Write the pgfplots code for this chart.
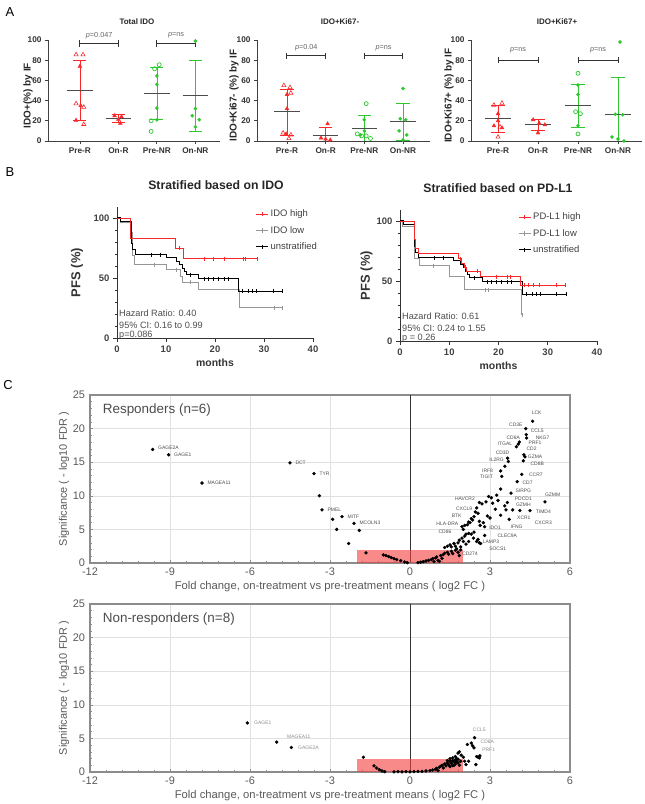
\documentclass[border=0pt]{standalone}
\usepackage{fontspec}
\setmainfont{Liberation Sans}
\usepackage{pgfplots}
\pgfplotsset{compat=1.18}
\definecolor{gpRed}{RGB}{250,40,40}
\definecolor{gpGreen}{RGB}{45,200,45}
\definecolor{kmGray}{RGB}{150,150,150}
\definecolor{boxRed}{RGB}{245,60,60}
\newcommand{\fs}[1]{\fontsize{#1}{#1}\selectfont}
\tikzset{
  gl/.style={font=\fs{5}, text=black!70, inner sep=0pt},
  gl2/.style={font=\fs{5}, text=black!45, inner sep=0pt},
}
\pgfplotsset{
  every axis/.append style={/pgf/number format/assume math mode=true, clip=false, scale only axis},
  panelA/.style={height=101bp, ymin=0, ymax=100, axis x line*=bottom, axis y line*=left,
    axis line style={-, black!75, line width=0.8bp},
    ytick={0,20,40,60,80,100}, xtick={0,1,2,3}, xticklabels={Pre-R,On-R,Pre-NR,On-NR},
    tick align=outside, major tick length=3bp, tick style={black!75, line width=0.8bp},
    tick label style={font=\fs{8.3}\bfseries, text=black!80},
    ylabel style={font=\fs{10}\bfseries, text=black!85, anchor=center}},
  rOpen/.style={only marks, mark=triangle, mark size=2.4bp, gpRed, mark options={line width=0.6bp}},
  rFill/.style={only marks, mark=triangle*, mark size=2.2bp, gpRed},
  gOpen/.style={only marks, mark=o, mark size=2bp, gpGreen, mark options={line width=0.7bp}},
  gFill/.style={only marks, mark=*, mark size=1.6bp, gpGreen},
  rBar/.style={gpRed, line width=0.7bp, mark=none},
  gBar/.style={gpGreen, line width=0.7bp, mark=none},
  meanL/.style={black!70, line width=0.8bp, mark=none},
  brk/.style={black!80, line width=1bp, mark=none},
  km/.style={width=196bp, height=130.8bp, xmin=0, xmax=40, ymin=0, ymax=109,
    axis x line*=bottom, axis y line*=left, axis line style={-, black!80, line width=0.9bp},
    xtick={0,10,20,30,40}, ytick={0,50,100}, minor ytick={10,20,30,40,60,70,80,90},
    tick style={black!80, line width=0.9bp}, major tick length=4bp, minor tick length=2.5bp, tick align=outside,
    tick label style={font=\fs{9.5}\bfseries, text=black!75},
    legend cell align=left,
    legend style={draw=none, fill=none, font=\fs{9.5}, text=black!75, row sep=4bp, inner sep=0pt},
    legend image code/.code={\draw[##1] (0bp,0bp) -- (12bp,0bp); \draw[##1] (6bp,-2.2bp) -- (6bp,2.2bp);},
    xlabel={months}, xlabel style={font=\fs{10.5}\bfseries, text=black!80},
    ylabel={PFS (\%)}, ylabel style={font=\fs{13}\bfseries, text=black!80, anchor=center}},
  volc/.style={width=480bp, height=168bp, xmin=-12, xmax=6, ymin=0, ymax=25,
    xtick={-12,-9,-6,-3,0,3,6}, ytick={0,5,10,15,20,25}, grid=major, grid style={black!12, line width=0.5bp},
    axis line style={black!45, line width=1.1bp}, tick pos=left, tick align=inside,
    minor x tick num=4, minor y tick num=4, major tick length=3bp, minor tick length=2bp,
    tick style={black!45, line width=0.5bp}, tick label style={font=\fs{11}, text=black!65},
    xticklabel style={yshift=-1.5bp}, yticklabel style={xshift=-1.5bp},
    xlabel={Fold change, on-treatment vs pre-treatment means ( log2 FC )},
    xlabel style={font=\fs{11.3}, text=black!65, yshift=1bp},
    ylabel={Significance ( - log10 FDR )},
    ylabel style={font=\fs{11}, text=black!65, at={(axis description cs:-0.054,0.5)}, anchor=center}},
  dots/.style={only marks, mark=*, mark size=1.5bp, black},
}
\begin{document}
\begin{tikzpicture}
\useasboundingbox (0,0) rectangle (645bp,804bp);
% panel letters
\node[font=\fs{13}, anchor=center] at (10bp,792bp) {A};
\node[font=\fs{13}, anchor=center] at (10bp,632bp) {B};
\node[font=\fs{13}, anchor=center] at (8bp,419bp) {C};
% titles A
\node[font=\fs{8}\bfseries, text=black!85] at (137bp,782bp) {Total IDO};
\node[font=\fs{8}\bfseries, text=black!85] at (340bp,782bp) {IDO+Ki67-};
\node[font=\fs{8}\bfseries, text=black!85] at (557bp,782bp) {IDO+Ki67+};

% ---------- A1
\begin{axis}[panelA, at={(48bp,663bp)}, anchor=south west, width=172bp, xmin=-0.83, xmax=3.64,
  ylabel={IDO+(\%) by IF}, ylabel style={at={(axis description cs:-0.116,0.45)}}]
\addplot[rOpen] coordinates {(-0.1,85.5)(0.08,85.5)(-0.1,37)(0.1,33.5)(0.1,16.5)};
\addplot[rFill] coordinates {(0,74)(0.02,35)(-0.1,20.5)};
\addplot[rBar] coordinates {(0,20.5)(0,80)};
\addplot[rBar] coordinates {(-0.17,80)(0.17,80)};
\addplot[rBar] coordinates {(-0.17,20.5)(0.17,20.5)};
\addplot[meanL] coordinates {(-0.33,50.3)(0.33,50.3)};
\addplot[rFill] coordinates {(0.9,25)(1.08,24)(1.0,21.5)(1.05,17.5)};
\addplot[rBar] coordinates {(1,18.5)(1,26)};
\addplot[rBar] coordinates {(0.83,26)(1.17,26)};
\addplot[rBar] coordinates {(0.83,18.5)(1.17,18.5)};
\addplot[meanL] coordinates {(0.67,22.3)(1.33,22.3)};
\addplot[gOpen] coordinates {(2.06,75.5)(1.94,71.5)(1.85,20)(1.85,9.5)};
\addplot[gFill] coordinates {(2,64.5)(2,56)(2,32.5)(2,21)};
\addplot[gBar] coordinates {(2,21)(2,73)};
\addplot[gBar] coordinates {(1.83,73)(2.17,73)};
\addplot[gBar] coordinates {(1.83,21)(2.17,21)};
\addplot[meanL] coordinates {(1.67,47.2)(2.33,47.2)};
\addplot[gFill] coordinates {(3,99)(3,32)(2.92,25)(3.1,21)(3,14)};
\addplot[gBar] coordinates {(3,10)(3,80)};
\addplot[gBar] coordinates {(2.83,80)(3.17,80)};
\addplot[gBar] coordinates {(2.83,10)(3.17,10)};
\addplot[meanL] coordinates {(2.67,45.2)(3.33,45.2)};
\addplot[brk] coordinates {(0,96.5)(1,96.5)};
\addplot[brk] coordinates {(0,93.5)(0,99.5)};
\addplot[brk] coordinates {(1,93.5)(1,99.5)};
\addplot[brk] coordinates {(2,96.5)(3,96.5)};
\addplot[brk] coordinates {(2,93.5)(2,99.5)};
\addplot[brk] coordinates {(3,93.5)(3,99.5)};
\node[font=\fs{7.3}, text=black!60] at (axis cs:0.5,104.5) {\textit{p}=0.047};
\node[font=\fs{7.3}, text=black!60] at (axis cs:2.5,104.5) {\textit{p}=ns};
\end{axis}

% ---------- A2
\begin{axis}[panelA, at={(257bp,663bp)}, anchor=south west, width=173bp, xmin=-0.775, xmax=3.7,
  ylabel={IDO+Ki67- (\%) by IF}, ylabel style={at={(axis description cs:-0.133,0.45)}}]
\addplot[rOpen] coordinates {(-0.08,55)(0.08,53)(0.1,47.5)(-0.1,8)(0.1,6)(0.05,2.5)};
\addplot[rFill] coordinates {(0,46)(0,32)(-0.02,7)};
\addplot[rBar] coordinates {(0,6)(0,51)};
\addplot[rBar] coordinates {(-0.17,51)(0.17,51)};
\addplot[rBar] coordinates {(-0.17,6)(0.17,6)};
\addplot[meanL] coordinates {(-0.33,29)(0.33,29)};
\addplot[rFill] coordinates {(1.05,17)(0.88,3)(1.0,2)(1.12,1)};
\addplot[rBar] coordinates {(1,0)(1,14)};
\addplot[rBar] coordinates {(0.83,14)(1.17,14)};
\addplot[meanL] coordinates {(0.67,6)(1.33,6)};
\addplot[gOpen] coordinates {(2.05,37)(1.82,7)(1.93,5)(2.05,5)(2.16,2.5)};
\addplot[gFill] coordinates {(2,21)(2,10)(1.9,6)};
\addplot[gBar] coordinates {(2,0)(2,25)};
\addplot[gBar] coordinates {(1.83,25)(2.17,25)};
\addplot[meanL] coordinates {(1.67,12.5)(2.33,12.5)};
\addplot[gFill] coordinates {(3,52)(2.93,22)(3.07,21)(2.9,10)(3.1,6)(3,1)};
\addplot[gBar] coordinates {(3,1)(3,37.5)};
\addplot[gBar] coordinates {(2.83,37.5)(3.17,37.5)};
\addplot[gBar] coordinates {(2.83,1)(3.17,1)};
\addplot[meanL] coordinates {(2.67,19)(3.33,19)};
\addplot[brk] coordinates {(0,84.5)(1,84.5)};
\addplot[brk] coordinates {(0,81.5)(0,87.5)};
\addplot[brk] coordinates {(1,81.5)(1,87.5)};
\addplot[brk] coordinates {(2,84.5)(3,84.5)};
\addplot[brk] coordinates {(2,81.5)(2,87.5)};
\addplot[brk] coordinates {(3,81.5)(3,87.5)};
\node[font=\fs{7.3}, text=black!60] at (axis cs:0.5,92) {\textit{p}=0.04};
\node[font=\fs{7.3}, text=black!60] at (axis cs:2.5,92) {\textit{p}=ns};
\end{axis}

% ---------- A3
\begin{axis}[panelA, at={(471bp,663bp)}, anchor=south west, width=171bp, xmin=-0.675, xmax=3.6,
  ylabel={IDO+Ki67+ (\%) by IF}, ylabel style={at={(axis description cs:-0.129,0.45)}}]
\addplot[rOpen] coordinates {(-0.1,35.5)(0.1,37.5)(0.05,14)(0,4)};
\addplot[rFill] coordinates {(0,27)(0,20)(-0.1,15)(0.1,13)};
\addplot[rBar] coordinates {(0,9)(0,35)};
\addplot[rBar] coordinates {(-0.17,35)(0.17,35)};
\addplot[rBar] coordinates {(-0.17,9)(0.17,9)};
\addplot[meanL] coordinates {(-0.33,22)(0.33,22)};
\addplot[rFill] coordinates {(0.88,21)(1.03,17.5)(1.17,16)(1.0,8)};
\addplot[rBar] coordinates {(1,11)(1,21.5)};
\addplot[rBar] coordinates {(0.83,21.5)(1.17,21.5)};
\addplot[rBar] coordinates {(0.83,11)(1.17,11)};
\addplot[meanL] coordinates {(0.67,16)(1.33,16)};
\addplot[gOpen] coordinates {(2.0,67)(1.94,29)(2.06,27)(2.0,7)};
\addplot[gFill] coordinates {(2,55.5)(2,46)(2,15)};
\addplot[gBar] coordinates {(2,14)(2,56.5)};
\addplot[gBar] coordinates {(1.83,56.5)(2.17,56.5)};
\addplot[gBar] coordinates {(1.83,14)(2.17,14)};
\addplot[meanL] coordinates {(1.67,35)(2.33,35)};
\addplot[gFill] coordinates {(3.05,98)(2.93,26.5)(3.12,26)(2.85,4)(3.0,2)(3.15,0)};
\addplot[gBar] coordinates {(3,0)(3,63.5)};
\addplot[gBar] coordinates {(2.83,63.5)(3.17,63.5)};
\addplot[meanL] coordinates {(2.67,26.5)(3.33,26.5)};
\addplot[brk] coordinates {(0,80)(1,80)};
\addplot[brk] coordinates {(0,77)(0,83)};
\addplot[brk] coordinates {(1,77)(1,83)};
\addplot[brk] coordinates {(2,80)(3,80)};
\addplot[brk] coordinates {(2,77)(2,83)};
\addplot[brk] coordinates {(3,77)(3,83)};
\node[font=\fs{7.3}, text=black!60] at (axis cs:0.5,90) {\textit{p}=ns};
\node[font=\fs{7.3}, text=black!60] at (axis cs:2.5,90) {\textit{p}=ns};
\end{axis}

% ---------- B titles
\node[font=\fs{12.3}\bfseries, text=black!85] at (216bp,619bp) {Stratified based on IDO};
\node[font=\fs{12.3}\bfseries, text=black!85] at (498bp,616bp) {Stratified based on PD-L1};

% ---------- B left
\begin{axis}[km, at={(117bp,466bp)}, anchor=south west,
  ylabel style={at={(axis description cs:-0.204,0.5)}},
  legend style={at={(axis cs:28.3,108.5)}, anchor=north west}]
\addlegendimage{gpRed, line width=0.8bp}
\addlegendentry{IDO high}
\addlegendimage{kmGray, line width=0.8bp}
\addlegendentry{IDO low}
\addlegendimage{black, line width=0.8bp}
\addlegendentry{unstratified}
\addplot[const plot, kmGray, line width=1bp, forget plot] coordinates {(0,100)(0.7,96)(2.8,88)(3.2,69)(3.6,61)(10.2,57)(12.9,51.5)(13.4,46.5)(16.7,40.3)(24.9,25)(33.7,25)};
\addplot[only marks, mark=|, mark size=2bp, kmGray, forget plot] coordinates {(7.5,61)(12,57)(15,46.5)(32,25)(33.7,25)};
\addplot[const plot, black, line width=1bp, forget plot] coordinates {(0,100)(0.8,97)(2.9,79)(3.2,73.5)(3.8,69.4)(10,66.7)(12.2,63.9)(12.8,61)(13.3,58.3)(13.8,55.5)(14.1,52.8)(16.7,49.2)(24.8,38.9)(33.7,38.9)};
\addplot[only marks, mark=|, mark size=2bp, black, forget plot] coordinates {(7,69.4)(8.8,69.4)(15,52.8)(17.8,49.2)(18.6,49.2)(19.6,49.2)(20.6,49.2)(21.8,49.2)(22.6,49.2)(25.6,38.9)(26.8,38.9)(27.6,38.9)(28.4,38.9)(31.8,38.9)(33.7,38.9)};
\addplot[const plot, gpRed, line width=0.9bp, forget plot] coordinates {(0,100)(2.8,83.3)(11.9,75)(13.5,66.1)(28.6,66.1)};
\addplot[only marks, mark=|, mark size=2bp, gpRed, forget plot] coordinates {(12.6,75)(17.7,66.1)(19.7,66.1)(21.9,66.1)(25.7,66.1)(26.2,66.1)(28.6,66.1)};
\node[font=\fs{9.2}, text=black!70, anchor=west, inner sep=0pt] at (axis cs:0.4,20.8) {Hazard Ratio: 0.40};
\node[font=\fs{9.2}, text=black!70, anchor=west, inner sep=0pt] at (axis cs:0.4,10.8) {95\% CI: 0.16 to 0.99};
\node[font=\fs{9.2}, text=black!70, anchor=west, inner sep=0pt] at (axis cs:0.4,2.2) {p=0.086};
\end{axis}

% ---------- B right
\begin{axis}[km, at={(400bp,463bp)}, anchor=south west, width=197bp,
  ylabel style={at={(axis description cs:-0.17,0.5)}},
  legend style={at={(axis cs:24,108.5)}, anchor=north west}]
\addlegendimage{gpRed, line width=0.8bp}
\addlegendentry{PD-L1 high}
\addlegendimage{kmGray, line width=0.8bp}
\addlegendentry{PD-L1 low}
\addlegendimage{black, line width=0.8bp}
\addlegendentry{unstratified}
\addplot[const plot, kmGray, line width=1bp, forget plot] coordinates {(0,100)(0.6,95.3)(2.9,68.7)(3.9,62.5)(10.1,53.4)(13.1,42.5)(24.7,22)(24.9,22)};
\addplot[only marks, mark=|, mark size=2bp, kmGray, forget plot] coordinates {(6.8,62.5)(17.3,42.5)(18,42.5)(24.9,22)};
\addplot[const plot, black, line width=1bp, forget plot] coordinates {(0,100)(0.8,97)(2.9,79)(3.2,73.5)(3.8,69.4)(10.8,66.7)(12.2,63.9)(12.8,61)(13.3,58.3)(13.8,55.5)(14.1,52.8)(16.7,49.2)(24.8,38.9)(33.7,38.9)};
\addplot[only marks, mark=|, mark size=2bp, black, forget plot] coordinates {(7,69.4)(8.8,69.4)(15,52.8)(17.8,49.2)(18.6,49.2)(19.6,49.2)(20.6,49.2)(21.8,49.2)(22.6,49.2)(25.6,38.9)(26.8,38.9)(27.6,38.9)(28.4,38.9)(31.8,38.9)(33.7,38.9)};
\addplot[const plot, gpRed, line width=0.9bp, forget plot] coordinates {(0,100)(2.9,85)(3.2,77)(3.8,72.9)(11.8,68.7)(12.5,64.5)(13,61.5)(13.5,58)(16.4,53.4)(24.4,46.4)(33.5,46.4)};
\addplot[only marks, mark=|, mark size=2bp, gpRed, forget plot] coordinates {(12.2,68.7)(13.2,61.5)(15.6,58)(19.5,53.4)(21.8,53.4)(22.3,53.4)(25.2,46.4)(26,46.4)(27,46.4)(28.3,46.4)(31.8,46.4)(33.5,46.4)};
\node[font=\fs{9.2}, text=black!70, anchor=west, inner sep=0pt] at (axis cs:0.4,20.8) {Hazard Ratio: 0.61};
\node[font=\fs{9.2}, text=black!70, anchor=west, inner sep=0pt] at (axis cs:0.4,10.8) {95\% CI: 0.24 to 1.55};
\node[font=\fs{9.2}, text=black!70, anchor=west, inner sep=0pt] at (axis cs:0.4,2.2) {p = 0.26};
\end{axis}

% ---------- C top
\begin{axis}[volc, at={(90bp,241bp)}, anchor=south west]
\addplot[black!80, line width=0.9bp, mark=none] coordinates {(0,0)(0,25)};
\addplot[dots] coordinates {
(-9.65,16.9)(-9.05,16.1)(-7.8,11.9)(-4.5,14.9)(-3.6,13.3)(-3.4,10.0)(-3.3,7.9)(-2.9,6.5)(-2.55,6.9)(-2.75,5.0)(-2.1,5.9)(-1.9,4.85)(-2.3,2.9)
(-1.65,1.5)(-1.0,1.2)(-0.9,1.1)(-0.8,0.95)(-0.7,0.8)(-0.6,0.65)(-0.5,0.5)(-0.35,0.35)(-0.2,0.15)(-0.1,0.05)(0.3,0.05)(0.4,0.12)(0.5,0.2)(0.6,0.3)(0.7,0.4)(0.8,0.5)(0.85,0.65)(0.95,0.75)(1.0,0.9)(1.05,0.4)(1.1,0.25)(1.15,1.1)(1.25,1.25)(1.3,1.45)(1.4,1.6)(1.45,1.3)(1.55,1.75)(1.6,1.4)(1.7,1.9)(1.8,1.6)(1.85,1.1)(1.9,1.95)(0.9,0.2)(1.2,0.7)
(1.3,2.3)(1.4,2.5)(1.5,2.7)(1.55,2.4)(1.65,2.9)(1.7,2.5)(1.8,3.0)(1.85,3.4)(1.95,3.7)(2.0,3.2)(2.05,4.0)(2.1,4.3)(2.2,4.4)(2.3,4.3)(2.4,4.6)(2.38,3.7)(2.2,3.2)(1.75,2.1)(2.8,4.1)(2.63,5.6)(2.5,3.2)(2.55,3.5)(2.6,3.0)(2.65,2.9)(2.1,2.8)(1.9,2.4)
(2.0,5.0)(1.95,5.4)(2.05,5.6)(2.15,5.7)(2.2,6.1)(2.25,6.0)(2.3,6.6)(2.35,6.4)(2.4,6.9)(2.45,7.6)(2.5,8.2)(2.55,7.4)(2.6,9.0)(2.7,8.8)(2.75,6.0)(2.8,5.4)(2.85,9.1)(2.95,9.9)(3.05,9.7)(3.1,8.9)(3.2,8.0)(2.9,7.0)(3.0,6.7)(2.6,6.2)
(3.4,11.0)(3.79,10.4)(3.65,9.0)(3.6,7.9)(3.4,7.1)(3.72,6.5)(3.85,7.9)(4.12,7.8)(4.5,7.8)(5.06,9.1)(4.02,12.1)(4.19,13.2)(3.44,12.9)(3.40,13.7)(3.56,14.4)(3.69,15.1)(3.66,15.6)(4.25,15.2)(4.31,15.8)(4.27,16.1)(3.99,17.3)(4.06,17.7)(4.1,18.0)(4.37,18.6)(4.36,19.1)(4.34,20.0)(4.6,21.1)(3.3,9.3)(3.25,10.1)(3.55,8.5)};
\addplot[draw=none, fill=boxRed, fill opacity=0.6, mark=none] coordinates {(-2,2)(2,2)} \closedcycle;
\node[font=\fs{13.5}, text=black!70, anchor=west] at (axis cs:-11.65,22.7) {Responders (n=6)};
\node[gl, anchor=west] at (axis cs:-9.45,17.1) {GAGE2A};
\node[gl, anchor=west] at (axis cs:-8.85,16.1) {GAGE1};
\node[gl, anchor=west] at (axis cs:-7.6,11.9) {MAGEA11};
\node[gl, anchor=west] at (axis cs:-4.3,14.9) {DCT};
\node[gl, anchor=west] at (axis cs:-3.4,13.3) {TYR};
\node[gl, anchor=west] at (axis cs:-3.1,7.95) {PMEL};
\node[gl, anchor=west] at (axis cs:-2.35,6.9) {MITF};
\node[gl, anchor=west] at (axis cs:-1.9,5.95) {MCOLN3};
\node[gl] at (axis cs:4.75,22.3) {LCK};
\node[gl] at (axis cs:3.97,20.6) {CD3E};
\node[gl] at (axis cs:4.77,19.7) {CCL5};
\node[gl] at (axis cs:4.97,18.7) {NKG7};
\node[gl] at (axis cs:3.87,18.6) {CD8A};
\node[gl] at (axis cs:4.69,17.9) {PRF1};
\node[gl] at (axis cs:3.56,17.8) {ITGAL};
\node[gl] at (axis cs:4.56,17.0) {CD2};
\node[gl] at (axis cs:3.47,16.4) {CD3D};
\node[gl] at (axis cs:4.69,15.8) {GZMA};
\node[gl] at (axis cs:3.25,15.4) {IL2RG};
\node[gl] at (axis cs:4.77,14.8) {CD8B};
\node[gl] at (axis cs:2.91,13.7) {IRF8};
\node[gl] at (axis cs:2.87,12.8) {TIGIT};
\node[gl] at (axis cs:4.72,13.2) {CCR7};
\node[gl] at (axis cs:4.41,12.0) {CD7};
\node[gl] at (axis cs:4.25,10.8) {SIRPG};
\node[gl] at (axis cs:5.35,10.2) {GZMM};
\node[gl] at (axis cs:2.06,9.5) {HAVCR2};
\node[gl] at (axis cs:4.25,9.6) {PDCD1};
\node[gl] at (axis cs:4.25,8.7) {GZMH};
\node[gl] at (axis cs:2.03,8.1) {CXCL9};
\node[gl] at (axis cs:5.0,7.6) {TIMD4};
\node[gl] at (axis cs:1.75,7.0) {BTK};
\node[gl] at (axis cs:4.27,6.8) {XCR1};
\node[gl] at (axis cs:5.0,6.0) {CXCR3};
\node[gl] at (axis cs:1.4,5.9) {HLA-DRA};
\node[gl] at (axis cs:3.19,5.3) {IDO1};
\node[gl] at (axis cs:4.0,5.4) {IFNG};
\node[gl] at (axis cs:1.31,4.7) {CD86};
\node[gl] at (axis cs:3.65,4.1) {CLEC9A};
\node[gl] at (axis cs:3.04,3.2) {LAMP3};
\node[gl] at (axis cs:3.29,2.1) {SOCS1};
\node[gl] at (axis cs:2.25,1.3) {CD274};
\end{axis}

% ---------- C bottom
\begin{axis}[volc, at={(90bp,32bp)}, anchor=south west]
\addplot[black!80, line width=0.9bp, mark=none] coordinates {(0,0)(0,25)};
\addplot[dots] coordinates {
(-6.1,7.3)(-5.0,4.45)(-4.45,3.65)(-1.75,2.2)(-1.35,0.9)(-1.25,0.6)(-1.15,0.35)(-1.05,0.15)(-0.95,0.05)(-0.6,0.02)(-0.45,0.05)(-0.3,0.02)(-0.15,0.05)(0.0,0.03)(0.15,0.05)(0.3,0.08)(0.45,0.1)(0.6,0.15)(0.75,0.2)(0.85,0.3)(0.95,0.4)(1.0,0.55)(1.05,0.2)(1.1,0.7)(1.15,0.85)(1.2,1.0)(1.25,0.6)(1.3,1.2)(1.35,0.9)(1.4,1.35)(1.45,1.1)(1.5,1.6)(1.55,1.3)(1.6,1.7)(1.6,0.95)(1.65,1.5)(1.7,1.2)(1.7,1.8)(1.75,1.55)(1.8,1.35)(1.8,1.9)(1.85,1.0)(1.9,1.6)(1.5,2.0)(1.6,2.1)(1.7,2.3)(1.75,2.0)(1.8,2.8)(1.85,3.0)(1.92,2.5)(2.0,2.2)(2.05,1.6)(2.1,1.1)(2.15,4.1)(2.3,4.3)(2.42,5.1)(2.35,3.9)(2.4,3.6)(2.47,1.1)(2.5,2.3)(2.55,2.2)(2.62,2.4)(2.6,2.1)(2.2,1.6)(1.4,1.7)(1.5,0.8)(1.65,1.0)};
\addplot[draw=none, fill=boxRed, fill opacity=0.6, mark=none] coordinates {(-2,2)(2,2)} \closedcycle;
\node[font=\fs{13.5}, text=black!70, anchor=west] at (axis cs:-11.65,22.7) {Non-responders (n=8)};
\node[gl2, anchor=west] at (axis cs:-5.85,7.3) {GAGE1};
\node[gl2] at (axis cs:-4.17,5.25) {MAGEA11};
\node[gl2, anchor=west] at (axis cs:-4.2,3.6) {GAGE2A};
\node[gl2] at (axis cs:2.6,6.3) {CCL5};
\node[gl2] at (axis cs:2.9,4.5) {CD8A};
\node[gl2] at (axis cs:2.95,3.3) {PRF1};
\end{axis}
\end{tikzpicture}
\end{document}
